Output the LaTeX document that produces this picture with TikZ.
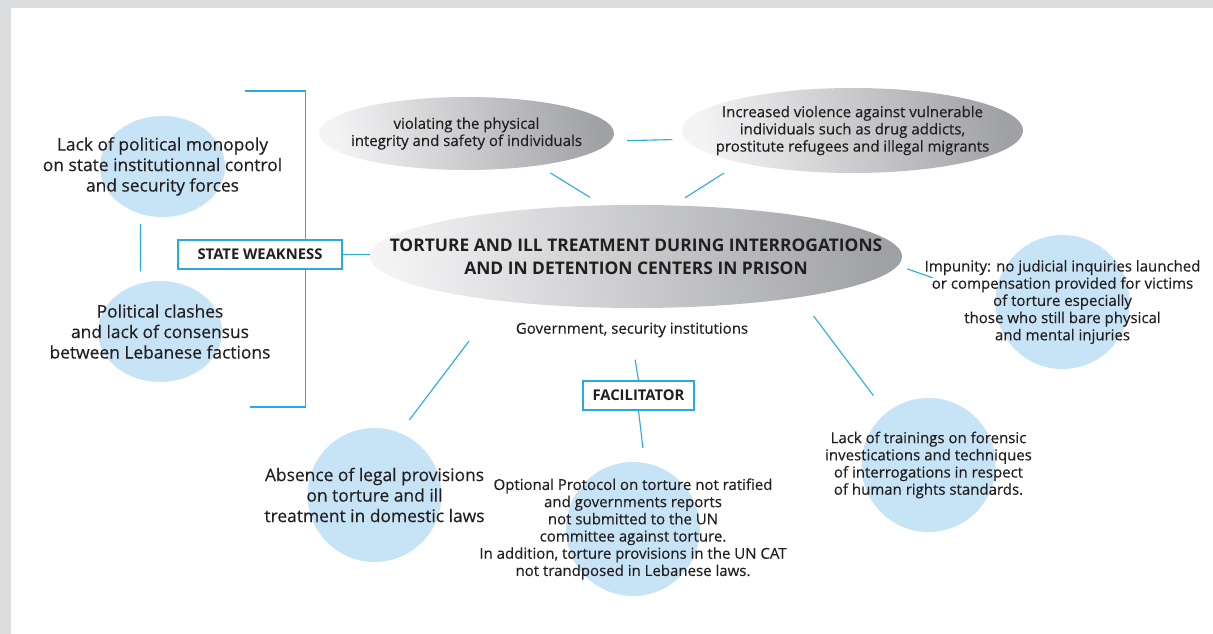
\documentclass[tikz,border=0pt]{standalone}
\usepackage{fontspec}
\setmainfont{Open Sans}[UprightFeatures={FakeBold=0.35}]
\usepackage{tikz}
\usetikzlibrary{positioning,shapes.geometric}
\definecolor{lineblue}{RGB}{41,171,226}
\definecolor{bubbleblue}{RGB}{199,228,246}
\definecolor{inkgray}{RGB}{35,31,32}
\definecolor{framegray}{RGB}{220,221,223}
\definecolor{shadelight}{RGB}{244,244,245}
\definecolor{shadedark}{RGB}{160,161,165}

\begin{document}
\begin{tikzpicture}[
    x=1pt, y=-1pt,
    text=inkgray,
    font=\fontsize{15}{17.2}\selectfont,
    link/.style={
		draw=lineblue,
		line width=1.1pt
	},
	bubble/.style={
		ellipse,
		fill=bubbleblue,
		inner sep=0pt,
		minimum width=134pt,
		minimum height=134pt
	},
	oval/.style={
		ellipse,
		left color=shadelight,
		right color=shadedark,
		shading angle=100,
		inner sep=0pt
	},
	tag/.style={
		rectangle,
		draw=lineblue,
		line width=1.4pt,
		fill=white,
		font=\fontsize{14.8}{16}\selectfont\bfseries,
%		text width=5cm,
		minimum height=29pt
	},
	words/.style={
		align=center,
		font=\fontsize{15}{17.2}\selectfont
	},
	bigwords/.style={
		align=center,
		font=\fontsize{17.4}{20.5}\selectfont
	},
	titlewords/.style={
		align=center,
		font=\fontsize{17.4}{23}\selectfont\bfseries
	}
  ]

% // frame
\fill [framegray] (0,0) rectangle (1213,634);
\fill [white] (11,8) rectangle (1213,634);
\useasboundingbox (0,0) rectangle (1213,634);

% // state weakness
\node [bubble, minimum width=125pt, minimum height=101pt,
 label={[bigwords]center:{Lack of political monopoly\\on state institutionnal control\\and security forces}}] (monopoly) at (162.5,166.5) {};
\node [bubble, minimum width=124pt, minimum height=101pt,
 label={[bigwords]center:{Political clashes\\and lack of consensus\\between Lebanese factions}}] (clashes) at (160,331.5) {};
\node [tag, minimum width=164pt] (weakness) at (260,254.5) {STATE WEAKNESS};

\coordinate (brtop) at (245,91);
\coordinate (brbot) at (250,407);
\coordinate (brx) at (305.5,91);

\draw [link] (brtop) -- (brx) -- (brx |- weakness.north);
\draw [link] (brbot) -| (brx |- weakness.south);
\draw [link, shorten <=10pt, shorten >=12pt] (monopoly.-115.5) -- (clashes.112.7);

% // consequences
\node [oval, minimum width=295pt, minimum height=73pt,
 label={[words]center:{violating the physical\\integrity and safety of individuals}}] (violating) at (466.5,133.5) {};
\node [oval, minimum width=341pt, minimum height=85pt,
 label={[words]center:{Increased violence against vulnerable\\individuals such as drug addicts,\\prostitute refugees and illegal migrants}}] (violence) at (852.5,130.5) {};

% // the core
\node [oval, shading angle=95, minimum width=532pt, minimum height=103pt,
 label={[titlewords]center:{TORTURE AND ILL TREATMENT DURING INTERROGATIONS\\AND IN DETENTION CENTERS IN PRISON}}] (torture) at (636,256.5) {};
\node [words] (actors) at (632,330) {Government, security institutions};
\node [tag, minimum width=111pt] (facilitator) at (638.5,395.5) {FACILITATOR};

% // causes
\node [bubble,
 label={[bigwords]center:{Absence of legal provisions\\on torture and ill\\treatment in domestic laws}}] (absence) at (374.5,495) {};
\node [bubble,
 label={[words]center:{Optional Protocol on torture not ratified\\and governments reports\\not submitted to the UN\\committee against torture.\\In addition, torture provisions in the UN CAT\\not trandposed in Lebanese laws.}}] (protocol) at (633,529) {};
\node [bubble,
 label={[words]center:{Lack of trainings on forensic\\investications and techniques\\of interrogations in respect\\of human rights standards.}}] (trainings) at (928.5,465) {};
\node [bubble,
 label={[words]center:{Impunity: no judicial inquiries launched\\or compensation provided for victims\\of torture especially\\those who still bare physical\\and mental injuries}}] (impunity) at (1062.5,302) {};

 \draw [link] (weakness.east) -- (weakness.east -| torture.west);
 \draw [link, shorten <=16pt, shorten >=13pt] (violating.-3) -- (violence.183.6);
 \draw [link, shorten <=14pt, shorten >=15pt] (violating.-24.5) -- (torture.123.8);
 \draw [link, shorten <=19.5pt, shorten >=14pt] (violence.196) -- (torture.54.8);
 \draw [link, shorten <=9.6pt, shorten >=66.5pt] (torture.-2.8) -- (impunity.178.9);
 \draw [link, shorten <=23.4pt, shorten >=21.5pt] (torture.-14.2) -- (trainings.129.3);
 \draw [link, shorten <=50.6pt, shorten >=15.9pt] (torture.198) -- (absence.68.2);
 \draw [link, shorten <=19pt] (actors.south) -- (facilitator.north);
 \draw [link, shorten >=15pt] (facilitator.south) -- (protocol.80);

\end{tikzpicture}
\end{document}
